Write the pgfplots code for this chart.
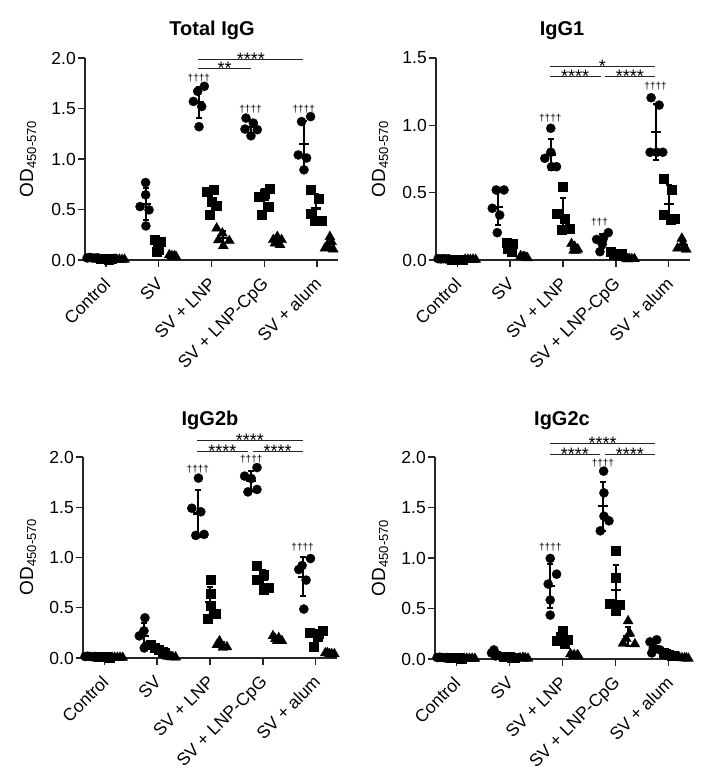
\documentclass[border=0pt]{standalone}
\usepackage{fontspec}
\setmainfont{Liberation Sans}
\usepackage{pgfplots}
\pgfplotsset{compat=1.18}
\newcommand{\fs}[1]{\fontsize{#1}{#1}\selectfont}
\pgfplotsset{
 panel/.style={
   scale only axis, clip=false,
   xmin=-0.4, xmax=4.4, ymin=0,
   axis x line*=bottom, axis y line*=left,
   axis line style={line width=1.3bp, black!85},
   tick style={line width=1.3bp, black!85},
   tick align=outside, major tick length=7bp,
   xtick={0,1,2,3,4},
   xticklabels={Control, SV, SV + LNP, SV + LNP-CpG, SV + alum},
   xticklabel style={rotate=45, anchor=north east, font=\fs{17.5bp}, inner sep=0pt, xshift=-9bp, yshift=-4bp},
   yticklabel style={font=\fs{17.5bp}, inner sep=2bp},
   /pgf/number format/fixed, /pgf/number format/fixed zerofill,
   /pgf/number format/precision=1, /pgf/number format/assume math mode=true,
 },
 circ/.style={only marks, mark=*, mark size=4.6bp, black, mark options={line width=0.3bp}},
 sq/.style={only marks, mark=square*, mark size=4.5bp, black, mark options={line width=0.3bp}},
 tri/.style={only marks, mark=triangle*, mark size=5.8bp, black, mark options={line width=0.3bp}},
 ebar/.style={only marks, mark=-, mark size=5bp, black, mark options={line width=2.2bp},
   error bars/.cd, y dir=both, y explicit,
   error bar style={line width=2bp, black},
   error mark options={line width=2bp, mark size=3bp, rotate=90, black}},
}
\newcommand{\sig}[4]{% x1, x2, y, text
  \draw[line width=1bp, black!85] (axis cs:#1,#3) -- (axis cs:#2,#3);
  \node[font=\fs{18bp}, anchor=base, inner sep=0, yshift=-6bp] at (axis cs:{(#1+#2)/2},#3) {#4};}
\newcommand{\dagg}[3]{\node[font=\fs{10bp}, inner sep=0] at (axis cs:#1,#2) {#3};}
\newcommand{\odlabel}{OD{\fs{13bp}\raisebox{-3bp}{450-570}}}
\begin{document}
\begin{tikzpicture}
\useasboundingbox (0,0) rectangle (703bp,-782bp);
% titles and y labels
\node[font=\fs{20bp}\bfseries, anchor=base] at (212bp,-35bp) {Total IgG};
\node[font=\fs{20bp}\bfseries, anchor=base] at (562bp,-35bp) {IgG1};
\node[font=\fs{20bp}\bfseries, anchor=base] at (210bp,-425bp) {IgG2b};
\node[font=\fs{20bp}\bfseries, anchor=base] at (562bp,-425bp) {IgG2c};
\node[font=\fs{19bp}, rotate=90, anchor=base] at (33bp,-159bp) {\odlabel};
\node[font=\fs{19bp}, rotate=90, anchor=base] at (385bp,-159bp) {\odlabel};
\node[font=\fs{19bp}, rotate=90, anchor=base] at (33bp,-557bp) {\odlabel};
\node[font=\fs{19bp}, rotate=90, anchor=base] at (385bp,-558bp) {\odlabel};

% ---------------- Panel 1: Total IgG
\begin{axis}[panel, at={(85bp,-260bp)}, anchor=south west, width=253bp, height=202bp,
  ymax=2, ytick={0,0.5,1,1.5,2}]
\addplot[circ] coordinates {(-0.36,0.02) (-0.31,0.025) (-0.26,0.02) (-0.21,0.018) (-0.16,0.022)
 (0.75,0.767) (0.75,0.645) (0.645,0.529) (0.815,0.496) (0.755,0.337)
 (1.864,1.72) (1.738,1.67) (1.656,1.57) (1.814,1.52) (1.763,1.32)
 (2.654,1.405) (2.793,1.356) (2.635,1.296) (2.869,1.29) (2.749,1.23)
 (3.88,1.42) (3.709,1.37) (3.646,1.04) (3.804,1.01) (3.754,0.893)};
\addplot[sq] coordinates {(-0.1,0.012) (-0.05,0.01) (0,0.01) (0.05,0.008) (0.1,0.01)
 (0.92,0.2) (1.04,0.18) (0.97,0.15) (1.0,0.1) (0.95,0.08)
 (1.908,0.678) (2.035,0.694) (2.003,0.58) (2.098,0.536) (1.959,0.446)
 (3.096,0.71) (3.0,0.66) (2.888,0.628) (3.077,0.53) (2.951,0.446)
 (3.886,0.70) (4.025,0.612) (3.88,0.46) (3.962,0.387) (4.088,0.387)};
\addplot[tri] coordinates {(0.15,0.006) (0.2,0.005) (0.25,0.005) (0.3,0.004) (0.35,0.005)
 (1.2,0.05) (1.25,0.04) (1.3,0.04) (1.27,0.03) (1.33,0.03)
 (2.098,0.314) (2.205,0.265) (2.13,0.198) (2.338,0.19) (2.224,0.14)
 (3.248,0.23) (3.172,0.2) (3.33,0.2) (3.204,0.165) (3.3,0.15)
 (4.246,0.23) (4.278,0.18) (4.152,0.116) (4.31,0.106) (4.2,0.15)};
\addplot[ebar] table[x=x, y=m, y error=s] {
x m s
-0.26 0.021 0.003
0.755 0.555 0.162
1.765 1.56 0.156
2.75 1.315 0.067
3.755 1.147 0.234
0 0.01 0.002
0.99 0.142 0.051
2.0 0.587 0.103
3.0 0.595 0.106
3.98 0.509 0.141
0.25 0.005 0.001
1.27 0.038 0.008
2.22 0.221 0.068
3.25 0.189 0.032
4.24 0.156 0.05
};
\sig{1.75}{3.74}{1.99}{****}
\sig{1.75}{2.75}{1.895}{**}
\dagg{1.76}{1.80}{††††}
\dagg{2.74}{1.495}{††††}
\dagg{3.75}{1.495}{††††}
\end{axis}

% ---------------- Panel 2: IgG1
\begin{axis}[panel, at={(436bp,-260bp)}, anchor=south west, width=254bp, height=202bp,
  ymax=1.5, ytick={0,0.5,1,1.5}]
\addplot[circ] coordinates {(-0.36,0.01) (-0.31,0.008) (-0.26,0.01) (-0.21,0.008) (-0.16,0.009)
 (0.739,0.52) (0.885,0.52) (0.664,0.384) (0.803,0.334) (0.758,0.203)
 (1.769,0.978) (1.769,0.80) (1.656,0.755) (1.782,0.693) (1.877,0.693)
 (2.856,0.203) (2.635,0.153) (2.761,0.16) (2.742,0.119) (2.698,0.062)
 (3.665,1.205) (3.817,1.15) (3.646,0.80) (3.773,0.80) (3.886,0.80)};
\addplot[sq] coordinates {(-0.1,0.006) (-0.05,0.005) (0,0.006) (0.05,0.005) (0.1,0.006)
 (0.929,0.129) (1.055,0.124) (0.992,0.1) (1.024,0.062) (0.96,0.087)
 (1.99,0.545) (1.877,0.347) (2.035,0.31) (1.972,0.223) (2.117,0.235)
 (2.9,0.062) (3.0,0.05) (3.1,0.05) (2.95,0.04) (3.05,0.03)
 (3.899,0.606) (4.044,0.52) (3.899,0.334) (4.025,0.297) (4.101,0.309)};
\addplot[tri] coordinates {(0.15,0.004) (0.2,0.004) (0.25,0.003) (0.3,0.004) (0.35,0.003)
 (1.2,0.03) (1.25,0.025) (1.3,0.02) (1.27,0.02) (1.33,0.015)
 (2.16,0.12) (2.22,0.1) (2.28,0.08) (2.2,0.07) (2.25,0.07)
 (3.2,0.01) (3.25,0.01) (3.3,0.008) (3.35,0.008) (3.22,0.006)
 (4.246,0.16) (4.265,0.124) (4.164,0.087) (4.329,0.079) (4.29,0.1)};
\addplot[ebar] table[x=x, y=m, y error=s] {
x m s
-0.26 0.009 0.001
0.77 0.392 0.134
1.77 0.784 0.118
2.74 0.139 0.053
3.76 0.951 0.208
0 0.006 0.001
0.99 0.1 0.028
2.0 0.332 0.13
3.0 0.046 0.012
4.0 0.413 0.141
0.25 0.004 0.001
1.27 0.022 0.006
2.22 0.088 0.021
3.26 0.008 0.002
4.26 0.11 0.033
};
\sig{1.75}{3.74}{1.44}{*}
\sig{1.75}{2.71}{1.36}{****}
\sig{2.79}{3.74}{1.36}{****}
\dagg{1.76}{1.052}{††††}
\dagg{2.69}{0.277}{†††}
\dagg{3.75}{1.287}{††††}
\end{axis}

% ---------------- Panel 3: IgG2b
\begin{axis}[panel, at={(83bp,-658bp)}, anchor=south west, width=254bp, height=201bp,
  ymax=2, ytick={0,0.5,1,1.5,2}]
\addplot[circ] coordinates {(-0.36,0.015) (-0.31,0.018) (-0.26,0.015) (-0.21,0.012) (-0.16,0.015)
 (0.771,0.40) (0.664,0.22) (0.752,0.27) (0.79,0.12) (0.758,0.10)
 (1.782,1.79) (1.656,1.49) (1.826,1.455) (1.731,1.22) (1.889,1.23)
 (2.888,1.895) (2.654,1.81) (2.78,1.786) (2.717,1.653) (2.888,1.677)
 (3.899,0.99) (3.678,0.88) (3.741,0.92) (3.817,0.775) (3.773,0.487)};
\addplot[sq] coordinates {(-0.1,0.01) (-0.05,0.01) (0,0.012) (0.05,0.01) (0.1,0.008)
 (0.88,0.13) (0.95,0.1) (1.03,0.08) (1.1,0.06) (1.15,0.05)
 (2.003,0.78) (2.003,0.636) (2.003,0.52) (2.11,0.444) (1.959,0.394)
 (2.888,0.915) (2.888,0.78) (3.014,0.825) (3.109,0.70) (3.014,0.676)
 (3.886,0.25) (4.12,0.27) (4.025,0.21) (3.962,0.113) (4.057,0.24)};
\addplot[tri] coordinates {(0.15,0.005) (0.2,0.005) (0.25,0.004) (0.3,0.005) (0.35,0.004)
 (1.2,0.015) (1.25,0.012) (1.3,0.01) (1.27,0.01) (1.35,0.008)
 (2.18,0.169) (2.13,0.13) (2.243,0.106) (2.319,0.11) (2.2,0.14)
 (3.19,0.22) (3.3,0.2) (3.235,0.19) (3.36,0.17) (3.27,0.17)
 (4.18,0.05) (4.22,0.05) (4.26,0.04) (4.3,0.04) (4.35,0.04)};
\addplot[ebar] table[x=x, y=m, y error=s] {
x m s
-0.26 0.015 0.002
0.76 0.222 0.122
1.77 1.437 0.233
2.78 1.764 0.1
3.76 0.81 0.197
0 0.01 0.001
1.0 0.084 0.032
2.0 0.555 0.155
3.0 0.779 0.097
4.0 0.217 0.062
0.25 0.005 0.001
1.27 0.011 0.003
2.22 0.131 0.025
3.27 0.19 0.021
4.26 0.044 0.005
};
\sig{1.76}{3.75}{2.167}{****}
\sig{1.76}{2.71}{2.058}{****}
\sig{2.81}{3.75}{2.058}{****}
\dagg{1.77}{1.875}{††††}
\dagg{2.78}{1.978}{††††}
\dagg{3.75}{1.10}{††††}
\end{axis}

% ---------------- Panel 4: IgG2c
\begin{axis}[panel, at={(435bp,-659bp)}, anchor=south west, width=255bp, height=202bp,
  ymax=2, ytick={0,0.5,1,1.5,2}]
\addplot[circ] coordinates {(-0.36,0.015) (-0.31,0.018) (-0.26,0.015) (-0.21,0.012) (-0.16,0.015)
 (0.708,0.09) (0.664,0.06) (0.78,0.04) (0.74,0.03) (0.82,0.03)
 (1.769,0.996) (1.889,0.84) (1.731,0.742) (1.769,0.584) (1.769,0.435)
 (2.774,1.86) (2.78,1.645) (2.78,1.414) (2.875,1.368) (2.711,1.269)
 (3.773,0.19) (3.646,0.17) (3.709,0.11) (3.836,0.09) (3.68,0.06)};
\addplot[sq] coordinates {(-0.1,0.01) (-0.05,0.01) (0,0.012) (0.05,0.01) (0.1,0.008)
 (0.9,0.025) (0.95,0.02) (1.0,0.02) (1.05,0.015) (1.1,0.015)
 (2.003,0.277) (1.889,0.178) (2.035,0.148) (1.972,0.22) (2.098,0.19)
 (3.0,1.07) (3.0,0.804) (2.888,0.55) (3.077,0.534) (3.0,0.478)
 (3.9,0.06) (3.95,0.05) (4.0,0.04) (4.05,0.03) (4.1,0.03)};
\addplot[tri] coordinates {(0.15,0.005) (0.2,0.005) (0.25,0.004) (0.3,0.005) (0.35,0.004)
 (1.2,0.01) (1.25,0.01) (1.3,0.008) (1.27,0.008) (1.35,0.006)
 (2.15,0.05) (2.22,0.04) (2.28,0.04) (2.2,0.03) (2.3,0.03)
 (3.235,0.376) (3.267,0.254) (3.14,0.155) (3.362,0.148) (3.2,0.2)
 (4.2,0.015) (4.25,0.01) (4.3,0.01) (4.33,0.008) (4.37,0.005)};
\addplot[ebar] table[x=x, y=m, y error=s] {
x m s
-0.26 0.015 0.002
0.74 0.05 0.025
1.77 0.719 0.218
2.77 1.511 0.239
3.73 0.124 0.055
0 0.01 0.001
1.0 0.019 0.004
2.0 0.203 0.049
3.0 0.687 0.248
4.0 0.042 0.013
0.25 0.005 0.001
1.27 0.008 0.002
2.23 0.038 0.008
3.24 0.227 0.094
4.29 0.01 0.004
};
\sig{1.77}{3.74}{2.13}{****}
\sig{1.77}{2.70}{2.02}{****}
\sig{2.80}{3.74}{2.02}{****}
\dagg{1.77}{1.105}{††††}
\dagg{2.76}{1.942}{††††}
\end{axis}
\end{tikzpicture}
\end{document}
